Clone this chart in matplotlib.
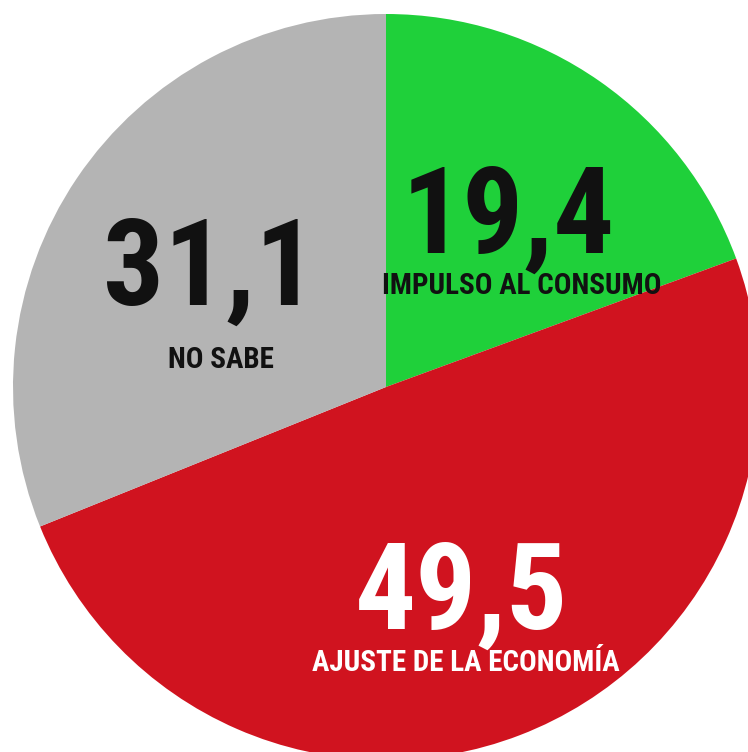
import matplotlib.pyplot as plt

labels = ["IMPULSO AL CONSUMO", "AJUSTE DE LA ECONOMÍA", "NO SABE"]
values = [19.4, 49.5, 31.1]
value_text = ["19,4", "49,5", "31,1"]
colors = ["#1fd03a", "#d0131f", "#b4b4b4"]
text_colors = ["#111111", "#ffffff", "#111111"]

W, H = 748, 752
fig = plt.figure(figsize=(W / 100, H / 100), dpi=100)
ax = fig.add_axes([0, 0, 1, 1])

cx, cy, r = 386, H - 387, 373
ax.pie(values, colors=colors, startangle=90, counterclock=False,
       center=(cx, cy), radius=r, frame=True)
ax.set_xlim(0, W)
ax.set_ylim(0, H)
ax.axis("off")

font = ["Roboto Condensed", "DejaVu Sans"]
# number and label positions in pixel coords (from top)
num_pos = [(508, 207), (462, 583), (210, 259)]
lab_pos = [(522, 283), (466, 660), (221, 357)]
for i in range(len(values)):
    ax.text(num_pos[i][0], H - num_pos[i][1], value_text[i], fontsize=87,
            fontweight="bold", family=font, color=text_colors[i],
            ha="center", va="center_baseline")
    ax.text(lab_pos[i][0], H - lab_pos[i][1], labels[i], fontsize=21,
            fontweight="bold", family=font, color=text_colors[i],
            ha="center", va="center_baseline")

fig.savefig("out.png", dpi=100)
